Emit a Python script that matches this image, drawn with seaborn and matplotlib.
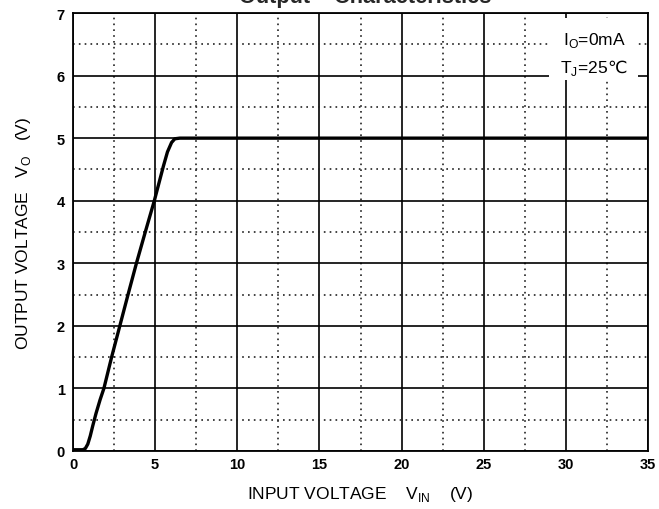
import matplotlib
matplotlib.use("Agg")
import matplotlib.pyplot as plt
from matplotlib.patches import Rectangle
import seaborn as sns
import pandas as pd

vin = [0.0, 0.6, 0.75, 0.9, 1.05, 1.2, 1.4, 1.65, 1.88, 2.35, 2.85, 3.35, 3.86, 4.4, 4.95,
       5.25, 5.5, 5.75, 6.0, 6.2, 6.5, 35.0]
vout = [0.02, 0.02, 0.04, 0.11, 0.24, 0.4, 0.6, 0.82, 1.0, 1.5, 2.0, 2.5, 3.0, 3.5, 4.0,
        4.3, 4.55, 4.78, 4.93, 4.99, 5.0, 5.0]
x_ticks = [0, 5, 10, 15, 20, 25, 30, 35]
y_ticks = [0, 1, 2, 3, 4, 5, 6, 7]

sns.set_style("white")
plt.rcParams['font.family'] = ['Liberation Sans', 'DejaVu Sans', 'Noto Sans CJK SC']
plt.rcParams['mathtext.fontset'] = 'custom'
plt.rcParams['mathtext.rm'] = 'Liberation Sans'

fig = plt.figure(figsize=(6.59, 5.10), dpi=100)
ax = fig.add_axes([73/659, 58/510, (648-73)/659, (452-14)/510])

df = pd.DataFrame({"vin": vin, "vout": vout})
sns.lineplot(data=df, x="vin", y="vout", ax=ax, color="black", linewidth=2.4, zorder=5)

ax.set_xlim(0, 35)
ax.set_ylim(0, 7)
ax.set_xticks(x_ticks)
ax.set_yticks(y_ticks)
ax.set_xticks([2.5 + 5*i for i in range(7)], minor=True)
ax.set_yticks([0.5 + i for i in range(7)], minor=True)
ax.grid(which='major', color='black', linewidth=1.2, linestyle='-')
ax.grid(which='minor', color='#222222', linewidth=1.2, linestyle=(0, (1, 2.5)))
ax.tick_params(which='both', length=0, labelsize=10.5, labelcolor='black')
for lab in ax.get_xticklabels() + ax.get_yticklabels():
    lab.set_fontweight('bold')
ax.tick_params(axis='x', pad=4)
ax.tick_params(axis='y', pad=6)
for s in ax.spines.values():
    s.set_color('black')
    s.set_linewidth(1.3)

ax.set_xlabel(r"INPUT VOLTAGE    V$_{\mathrm{IN}}$    (V)", fontsize=12.5, labelpad=10, color='black')
ax.set_ylabel(r"OUTPUT VOLTAGE   V$_{\mathrm{O}}$   (V)", fontsize=12.5, labelpad=17, color='black')

# condition box
ax.add_patch(Rectangle((29.0, 5.93), 5.4, 0.99, facecolor='white', edgecolor='none', zorder=4))
ax.text(29.8, 6.505, r"I$_{\mathrm{O}}$=0mA", ha='left', va='baseline', fontsize=12.5,
        color='black', zorder=6)
ax.text(32.55, 6.055, r"T$_{\mathrm{J}}$=25", ha='right', va='baseline', fontsize=12.5,
        color='black', zorder=6)
ax.text(32.55, 6.055, "℃", ha='left', va='baseline', fontsize=12.5, color='black',
        family=['DejaVu Sans'], zorder=6)

fig.text(0.554, 0.995, "Output    Characteristics", ha='center', va='baseline',
         fontsize=15.7, fontweight='bold')

fig.savefig("out.png", dpi=100)
